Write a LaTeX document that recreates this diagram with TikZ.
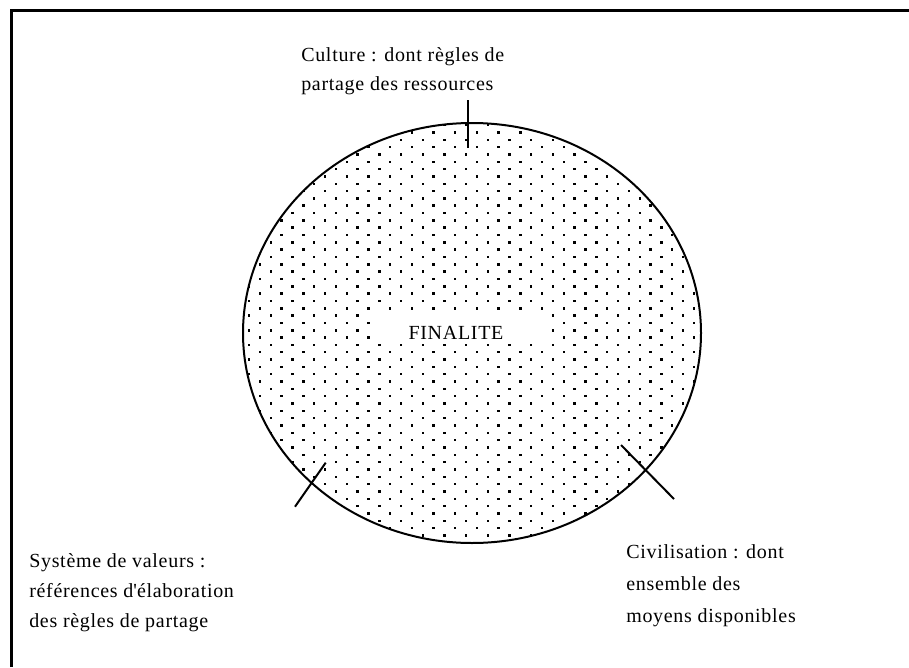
\documentclass[tikz,border=0pt]{standalone}
\usepackage{fontspec}
\setmainfont{Liberation Serif}[LetterSpace=3.5]
\begin{document}
\begin{tikzpicture}[x=0.75pt,y=-0.75pt, every node/.style={font=\fontsize{15}{21}\selectfont, inner sep=0pt}]
\useasboundingbox (0,0) rectangle (909,667);
\draw[line width=2.2pt] (11.5,667) -- (11.5,10.5) -- (909,10.5);
\begin{scope}
\clip (472,333) ellipse (229 and 210);
\foreach \i [evaluate=\i as \dy using 110.4+7.33*\i, evaluate=\i as \dx using {227.4+10.85*mod(\i,2)}] in {0,...,63}
  \foreach \j in {0,...,22}
    \fill (\dx+21.7*\j-1.2,\dy-1.2) rectangle ++(2.4,2.4);
\end{scope}
\draw[line width=1.5pt] (472,333) ellipse (229 and 210);
\fill[white] (372,311) rectangle (545,341);
\node[anchor=base] (finalite) at (456,339) {FINALITE};
\node[anchor=base west, align=left] (culture) at (301,90) {Culture : dont règles de\\partage des ressources};
\node[anchor=base west, align=left, font=\fontsize{15}{22.5}\selectfont] (systeme) at (29,627) {Système de valeurs :\\références d\textquotesingle élaboration\\des règles de partage};
\node[anchor=base west, align=left, font=\fontsize{15}{23.8}\selectfont] (civilisation) at (626,622) {Civilisation : dont\\ensemble des\\moyens disponibles};
\coordinate (c1) at (468,100);
\coordinate (c2) at (468,148);
\coordinate (s1) at (325.7,462.7);
\coordinate (s2) at (295,506.7);
\coordinate (v1) at (621,445);
\coordinate (v2) at (674,499);
\draw[line width=1.5pt] (c1) -- (c2);
\draw[line width=1.5pt] (s1) -- (s2);
\draw[line width=1.5pt] (v1) -- (v2);
\end{tikzpicture}
\end{document}
